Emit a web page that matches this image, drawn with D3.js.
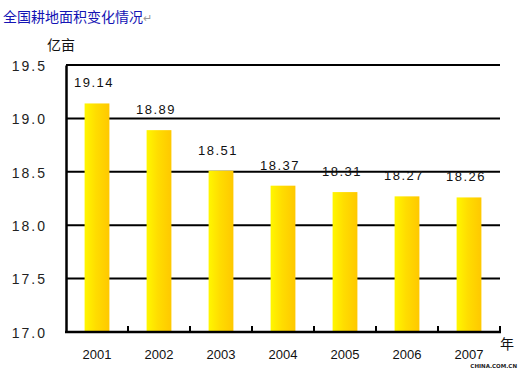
<!DOCTYPE html>
<html><head><meta charset="utf-8">
<script src="https://cdn.jsdelivr.net/npm/d3@7"></script>
<style>body{margin:0;background:#fff}svg{display:block}</style>
</head><body>
<script>
const years = ["2001","2002","2003","2004","2005","2006","2007"];
const values = [19.14,18.89,18.51,18.37,18.31,18.27,18.26];
const yTicks = [17.0,17.5,18.0,18.5,19.0,19.5];
const title = "全国耕地面积变化情况";
const unitY = "亿亩", unitX = "年";

const W=520,H=369;
const svg=d3.select("body").append("svg").attr("width",W).attr("height",H);
const m={l:66,r:500,t:65,b:332};
const x=d3.scaleBand().domain(years).range([m.l,m.r]).paddingInner(0.6).paddingOuter(0.3);
const xb=d3.scaleBand().domain(years).range([m.l,m.r]);
const y=d3.scaleLinear().domain([17,19.5]).range([m.b,m.t]);

const defs=svg.append("defs");
const g=defs.append("linearGradient").attr("id","bg").attr("x1","0").attr("x2","1").attr("y1","0").attr("y2","0");
g.append("stop").attr("offset","0%").attr("stop-color","#FFF700");
g.append("stop").attr("offset","45%").attr("stop-color","#FFDD00");
g.append("stop").attr("offset","100%").attr("stop-color","#FFC800");

svg.append("text").attr("x",3).attr("y",22).attr("font-family","'Noto Sans CJK SC'").attr("font-size",14).attr("fill","#1414b4").text(title)
  .append("tspan").attr("fill","#999").attr("font-size",11).text("↵");

// gridlines
svg.append("g").selectAll("line").data(yTicks.filter(d=>d>17)).join("line")
  .attr("x1",m.l).attr("x2",m.r).attr("y1",d=>y(d)).attr("y2",d=>y(d))
  .attr("stroke","#000").attr("stroke-width",2);

// bars
svg.append("g").selectAll("rect").data(values).join("rect")
  .attr("x",(d,i)=>x(years[i])).attr("width",x.bandwidth())
  .attr("y",d=>y(d)).attr("height",d=>m.b-y(d)).attr("fill","url(#bg)");

// axes
const yAxis=d3.axisLeft(y).tickValues(yTicks).tickSize(0).tickFormat(d3.format(".1f"));
const ya=svg.append("g").attr("transform",`translate(${m.l},0)`).call(yAxis);
ya.select(".domain").attr("stroke","#000").attr("stroke-width",2.5);
ya.selectAll("text").attr("x",-19).attr("dy","0.38em").attr("font-family","'Liberation Sans'").attr("font-size",14).attr("letter-spacing","2px").attr("fill","#222");

const xAxis=d3.axisBottom(xb).tickSize(0);
const xa=svg.append("g").attr("transform",`translate(0,${m.b})`).call(xAxis);
xa.select(".domain").remove();
xa.selectAll("text").attr("y",27).attr("dy","0").attr("font-family","'Liberation Sans'").attr("font-size",13).attr("fill","#111");
svg.append("line").attr("x1",m.l-1).attr("x2",m.r+1).attr("y1",m.b).attr("y2",m.b).attr("stroke","#000").attr("stroke-width",2.5);
// category separator ticks
svg.append("g").selectAll("line").data(years.slice(1).concat(["end"])).join("line")
  .attr("x1",(d,i)=>i<6?xb(d):m.r).attr("x2",(d,i)=>i<6?xb(d):m.r)
  .attr("y1",m.b).attr("y2",m.b-6).attr("stroke","#000").attr("stroke-width",2);

// value labels
svg.append("g").selectAll("text").data(values).join("text")
  .attr("x",(d,i)=>x(years[i])+x.bandwidth()/2-3).attr("y",d=>y(d)-16)
  .attr("text-anchor","middle").attr("font-family","'Liberation Sans'").attr("font-size",13).attr("letter-spacing","1.5px").attr("fill","#111")
  .text(d=>d.toFixed(2));

svg.append("text").attr("x",47).attr("y",50).attr("font-family","'Noto Sans CJK SC'").attr("font-size",14).attr("fill","#111").text(unitY);
svg.append("text").attr("x",500).attr("y",349).attr("font-family","'Noto Sans CJK SC'").attr("font-size",14).attr("fill","#111").text(unitX);
svg.append("text").attr("x",517).attr("y",367.5).attr("text-anchor","end").attr("font-family","'DejaVu Sans'").attr("font-weight","bold").attr("font-size",5.5)
  .attr("fill","#222").attr("stroke","#fff").attr("stroke-width",1.5).attr("paint-order","stroke").text("CHINA.COM.CN");
</script>
</body></html>
